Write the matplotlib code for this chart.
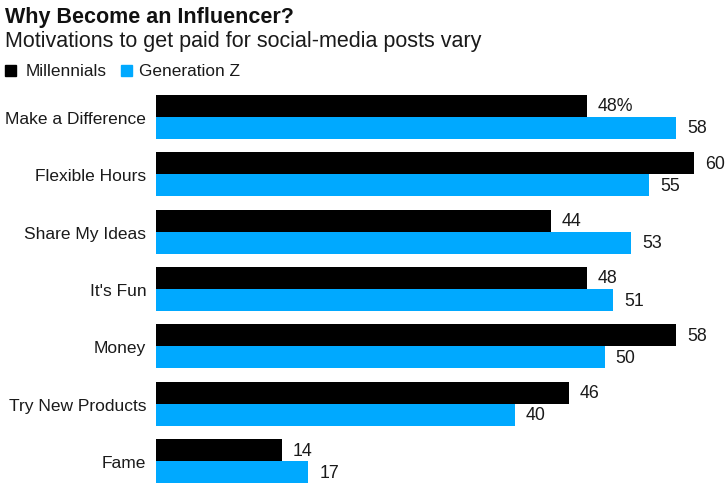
import numpy as np
import matplotlib
matplotlib.use("Agg")
import matplotlib.pyplot as plt

plt.rcParams['font.family'] = ['Liberation Sans', 'DejaVu Sans']

categories = ["Make a Difference", "Flexible Hours", "Share My Ideas", "It's Fun",
              "Money", "Try New Products", "Fame"]
millennials = [48, 60, 44, 48, 58, 46, 14]
gen_z = [58, 55, 53, 51, 50, 40, 17]

BLACK = "#000000"
BLUE = "#00a9ff"
TEXT = "#1a1a1a"

W, H = 726, 485
fig = plt.figure(figsize=(W / 100, H / 100), dpi=100)

# Plot area in pixel terms
left, right, top, bottom = 156, 726, 95, 485
ax = fig.add_axes([left / W, 1 - bottom / H, (right - left) / W, (bottom - top) / H])

y = np.arange(len(categories))
h = 0.385
ax.barh(y - h / 2, millennials, height=h, color=BLACK)
ax.barh(y + h / 2, gen_z, height=h, color=BLUE)

ax.set_xlim(0, 570 / 8.97)
ax.set_ylim(len(categories) - 0.6, -0.4)
ax.set_yticks(y)
ax.set_yticklabels(categories, fontsize=12.5, color=TEXT)
ax.tick_params(axis='y', length=0, pad=7)
ax.set_xticks([])
for s in ax.spines.values():
    s.set_visible(False)

# Value labels at the end of each bar
for i, (m, g) in enumerate(zip(millennials, gen_z)):
    txt = f"{m}%" if i == 0 else f"{m}"
    ax.annotate(txt, (m, i - h / 2), xytext=(8, 0), textcoords="offset points",
                va="center", ha="left", fontsize=12.8, color=TEXT,
                annotation_clip=False)
    ax.annotate(f"{g}", (g, i + h / 2), xytext=(8, 0), textcoords="offset points",
                va="center", ha="left", fontsize=12.8, color=TEXT,
                annotation_clip=False)

# Title, subtitle and legend
fig.text(5 / W, 1 - 17 / H, "Why Become an Influencer?", fontsize=15.5,
         fontweight="bold", va="center", ha="left", color="#111111")
fig.text(5 / W, 1 - 42 / H, "Motivations to get paid for social-media posts vary",
         fontsize=15.5, va="center", ha="left", color=TEXT)

ly = 1 - 71 / H
fig.patches.append(plt.Rectangle((5 / W, ly - 5.5 / H), 11 / W, 11 / H,
                                 transform=fig.transFigure, color=BLACK))
fig.text(26 / W, ly, "Millennials", fontsize=12.4, va="center", ha="left", color=TEXT)
fig.patches.append(plt.Rectangle((121 / W, ly - 5.5 / H), 11 / W, 11 / H,
                                 transform=fig.transFigure, color=BLUE))
fig.text(139 / W, ly, "Generation Z", fontsize=12.4, va="center", ha="left", color=TEXT)

fig.savefig("out.png", dpi=100)
